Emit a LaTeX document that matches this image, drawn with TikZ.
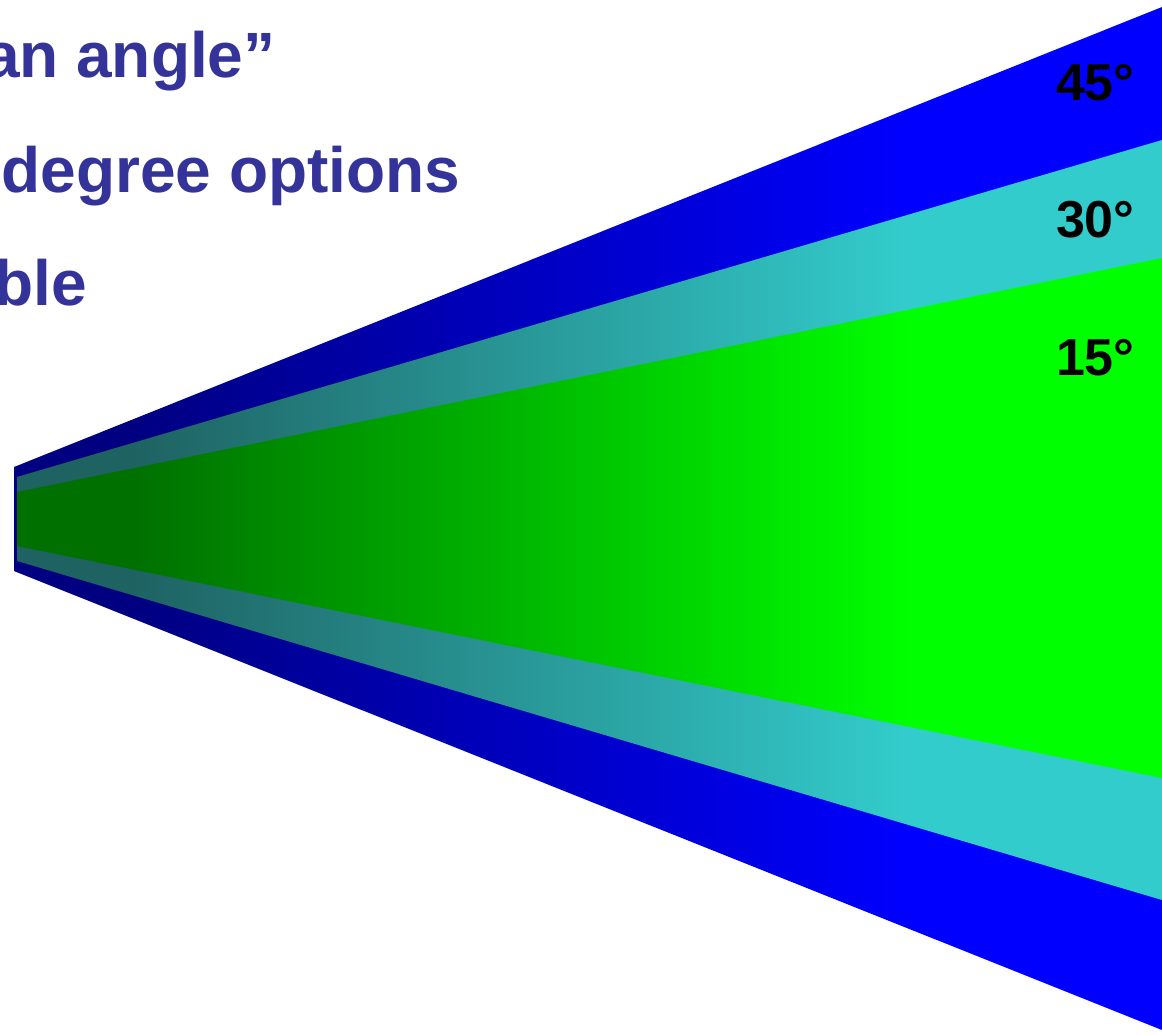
\documentclass[tikz,border=0pt]{standalone}
\usepackage{fontspec}
\setmainfont{Liberation Sans}
\definecolor{txtblue}{HTML}{333399}
\definecolor{bluedark}{HTML}{000080}
\definecolor{bluelight}{HTML}{0000FF}
\definecolor{cyandark}{HTML}{1F6262}
\definecolor{cyanlight}{HTML}{33CCCC}
\definecolor{greendark}{HTML}{007000}
\definecolor{greenlight}{HTML}{00FF00}
\pgfdeclarehorizontalshading{blueshade}{100bp}{color(0bp)=(bluedark); color(30bp)=(bluedark); color(64bp)=(bluelight); color(100bp)=(bluelight)}
\pgfdeclarehorizontalshading{cyanshade}{100bp}{color(0bp)=(cyandark); color(30bp)=(cyandark); color(64bp)=(cyanlight); color(100bp)=(cyanlight)}
\pgfdeclarehorizontalshading{greenshade}{100bp}{color(0bp)=(greendark); color(30bp)=(greendark); color(64bp)=(greenlight); color(100bp)=(greenlight)}
\tikzset{
  headline/.style={anchor=base west, inner sep=0pt, outer sep=0pt, text=txtblue,
    font=\fontsize{32}{32}\selectfont\bfseries},
  deglabel/.style={anchor=base west, inner sep=0pt, outer sep=0pt, text=black,
    font=\fontsize{26}{26}\selectfont\bfseries},
}
\begin{document}
\begin{tikzpicture}[x=0.5pt,y=-0.5pt]
\useasboundingbox (0,0) rectangle (1162,1034);
\clip (0,0) rectangle (1162,1034);
\fill[white] (0,0) rectangle (1162,1034);
% wedges
\shade[shading=blueshade] (14,467) -- (1162,7) -- (1162,1030) -- (14,571) -- cycle;
\shade[shading=cyanshade] (17,477) -- (1162,140) -- (1162,900) -- (17,561) -- cycle;
\shade[shading=greenshade] (17,492) -- (1162,258) -- (1162,778) -- (17,546) -- cycle;
% labels
\node[deglabel] (l45) at (1056,100) {45°};
\node[deglabel] (l30) at (1056,237) {30°};
\node[deglabel] (l15) at (1056,375) {15°};
% text
\node[headline] (t1) at (-16,77) {an angle”};
\node[headline] (t2) at (1.5,192) {degree options};
\node[headline] (t3) at (-5.5,305) {ble};
\end{tikzpicture}
\end{document}
